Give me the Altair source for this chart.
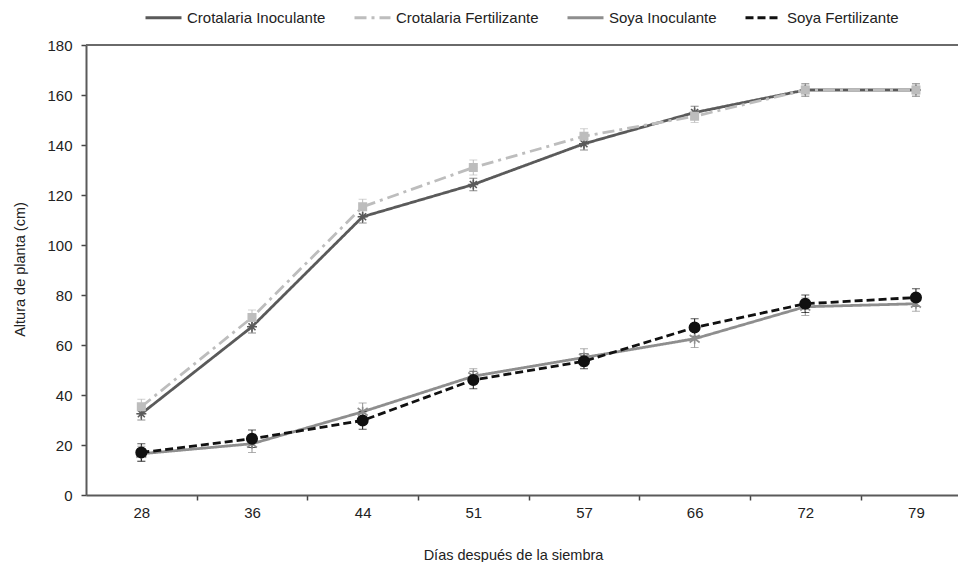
import json
import altair as alt
import pandas as pd

days = [28, 36, 44, 51, 57, 66, 72, 79]
series = ["Crotalaria Inoculante", "Crotalaria Fertilizante", "Soya Inoculante", "Soya Fertilizante"]

crot_inoc = [32.5, 67.3, 111.3, 124.2, 140.5, 153.0, 162.0, 162.0]
crot_inoc_err = [2.5, 2.5, 2.5, 2.5, 2.5, 2.5, 2.5, 2.5]
crot_fert = [35.3, 71.0, 115.3, 131.0, 143.5, 151.5, 162.0, 162.0]
crot_fert_err = [3.0, 3.0, 3.0, 3.0, 3.0, 2.5, 2.0, 2.0]
soya_inoc = [16.5, 20.5, 33.3, 47.5, 55.0, 62.5, 75.3, 76.5]
soya_inoc_err = [3.0, 3.5, 3.5, 3.0, 3.5, 3.5, 3.5, 3.0]
soya_fert = [17.0, 22.5, 29.8, 46.0, 53.5, 67.0, 76.5, 79.0]
soya_fert_err = [3.5, 3.5, 3.5, 3.5, 3.0, 3.5, 3.5, 3.5]

colors = ["#5a5a5a", "#bdbdbd", "#8e8e8e", "#111111"]
dashes = [[1, 0], [12, 5, 3, 5], [1, 0], [8, 4]]
shapes = [
    "M-1,0L1,0M0,-1L0,1M-0.7,-0.7L0.7,0.7M-0.7,0.7L0.7,-0.7",
    "square",
    "M-1,-0.75L1,0.75M-1,0.75L1,-0.75M0,-1L0,1",
    "circle",
]
sizes = [100, 55, 100, 110]

rows = []
for name, vals, errs in [
    (series[0], crot_inoc, crot_inoc_err),
    (series[1], crot_fert, crot_fert_err),
    (series[2], soya_inoc, soya_inoc_err),
    (series[3], soya_fert, soya_fert_err),
]:
    for i, (d, v, e) in enumerate(zip(days, vals, errs)):
        rows.append({"idx": i, "dia": d, "serie": name,
                     "val": v, "lo": v - e, "hi": v + e})
df = pd.DataFrame(rows)

FONT = "Liberation Sans"
label_list = json.dumps([str(d) for d in days])

x_tick_values = [i * 0.5 for i in range(0, 15)]
x_axis = alt.Axis(
    values=x_tick_values,
    labelExpr=f"datum.value % 1 === 0 ? {label_list}[datum.value] : ''",
    tickOpacity={"condition": {"test": "datum.value % 1 !== 0", "value": 1}, "value": 0},
    labelOverlap=False,
    labelFlush=False,
    grid=False,
    tickSize=5,
    labelPadding=5,
    titleX=427,
    titleY=60,
    titleBaseline="middle",
    titleAlign="center",
)
y_axis = alt.Axis(
    values=list(range(0, 181, 20)),
    grid=False,
    tickSize=5,
    labelPadding=9,
    titleX=-66,
    titleY=224,
    titleBaseline="middle",
    titleAlign="center",
    titleAngle=270,
)

x_enc = alt.X("idx:Q", scale=alt.Scale(domain=[-0.5, 7.38], nice=False, zero=False),
              axis=x_axis, title="Días después de la siembra")
y_enc = alt.Y("val:Q", scale=alt.Scale(domain=[0, 180], nice=False),
              axis=y_axis, title="Altura de planta (cm)")

color_scale = alt.Scale(domain=series, range=colors)
dash_scale = alt.Scale(domain=series, range=dashes)

leg = alt.Legend(
    orient="none", legendX=58, legendY=-47, direction="horizontal",
    symbolType="stroke", symbolSize=1296, symbolStrokeWidth=3,
    labelFontSize=15, labelFont=FONT, labelColor="#222",
    labelOffset=4, columnPadding=22, padding=0,
)

base = alt.Chart(df)

lines = base.mark_line(strokeWidth=2.8).encode(
    x=x_enc, y=y_enc,
    color=alt.Color("serie:N", scale=color_scale, legend=leg, title=None),
    strokeDash=alt.StrokeDash("serie:N", scale=dash_scale, legend=leg, title=None),
)

err_rules = base.mark_rule(strokeWidth=1).encode(
    x=alt.X("idx:Q"), y=alt.Y("lo:Q"), y2="hi:Q",
    color=alt.Color("serie:N", scale=color_scale, legend=None),
)
cap_lo = base.mark_tick(orient="horizontal", size=8, thickness=1).encode(
    x=alt.X("idx:Q"), y=alt.Y("lo:Q"),
    color=alt.Color("serie:N", scale=color_scale, legend=None),
)
cap_hi = base.mark_tick(orient="horizontal", size=8, thickness=1).encode(
    x=alt.X("idx:Q"), y=alt.Y("hi:Q"),
    color=alt.Color("serie:N", scale=color_scale, legend=None),
)

point_layers = []
for s, col, shp, sz in zip(series, colors, shapes, sizes):
    point_layers.append(
        base.transform_filter(alt.datum.serie == s).mark_point(
            shape=shp, size=sz, filled=True, fill=col, stroke=col,
            strokeWidth=1.6, opacity=1,
        ).encode(x=alt.X("idx:Q"), y=alt.Y("val:Q"))
    )

top_border = alt.Chart(df).mark_rule(color="#6a6a6a", strokeWidth=2).encode(
    y=alt.datum(180)
)

chart = alt.layer(top_border, lines, err_rules, cap_lo, cap_hi, *point_layers).properties(
    width=872,
    height=450,
    autosize="none",
    padding={"left": 86, "top": 45, "right": 0, "bottom": 67},
    background="white",
).configure_view(stroke=None).configure_axis(
    domainColor="#5a5a5a",
    domainWidth=2,
    tickColor="#444",
    tickWidth=1.5,
    labelFont=FONT,
    labelFontSize=15,
    labelColor="#222",
    titleFont=FONT,
    titleFontSize=14.5,
    titleFontWeight="normal",
    titleColor="#222",
)

chart.save("out.html", embed_options={"renderer": "svg", "actions": False})
